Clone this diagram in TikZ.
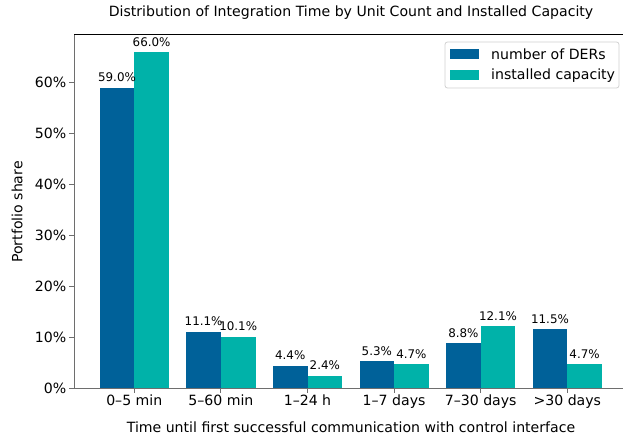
\documentclass[tikz,border=0pt]{standalone}
\usepackage{fontspec}
\setmainfont{DejaVu Sans}
\definecolor{derblue}{RGB}{0,97,153}
\definecolor{capteal}{RGB}{0,178,169}
\definecolor{spinegray}{RGB}{110,110,110}
\begin{document}
\begin{tikzpicture}[x=1pt,y=-1pt,
  lbl/.style={font=\fontsize{14.1}{16}\selectfont, inner sep=0pt},
  vallbl/.style={font=\fontsize{11.9}{14}\selectfont, inner sep=0pt, anchor=base},
  barblue/.style={fill=derblue, draw=none},
  barteal/.style={fill=capteal, draw=none},
  spine/.style={line width=1pt, spinegray},
  tickline/.style={line width=0.9pt, spinegray}]
\useasboundingbox (0,0) rectangle (623,438);

% title
\node[lbl] (title) at (351,13) {Distribution of Integration Time by Unit Count and Installed Capacity};

% bars and value labels
\def\zero{388}
\def\scl{5.09}
\def\bw{34.6}
\foreach \i/\a/\b/\xl in {0/59.0/66.0/0--5 min, 1/11.1/10.1/5--60 min, 2/4.4/2.4/1--24 h,
                          3/5.3/4.7/1--7 days, 4/8.8/12.1/7--30 days, 5/11.5/4.7/{>30 days}} {
  \pgfmathsetmacro{\c}{134.3+86.6*\i}
  \pgfmathsetmacro{\ya}{\zero-\a*\scl}
  \pgfmathsetmacro{\yb}{\zero-\b*\scl}
  \path[barblue] (\c-\bw,\zero) rectangle (\c,\ya);
  \path[barteal] (\c,\zero) rectangle (\c+\bw,\yb);
  \coordinate (topa\i) at (\c-\bw/2,\ya);
  \coordinate (topb\i) at (\c+\bw/2,\yb);
  \node[vallbl] (va\i) at ([yshift=6]topa\i) {\a\%};
  \node[vallbl] (vb\i) at ([yshift=6]topb\i) {\b\%};
  % x tick and its label
  \coordinate (xt\i) at (\c,\zero);
  \draw[tickline] (xt\i) -- ++(0,5);
  \node[lbl, anchor=base] (xl\i) at (\c,405) {\xl};
}

% y ticks
\foreach \v in {0,10,20,30,40,50,60} {
  \pgfmathsetmacro{\yy}{\zero-\v*\scl}
  \coordinate (yt\v) at (74,\yy);
  \draw[tickline] (yt\v) -- ++(-5,0);
  \node[lbl, anchor=east] (yl\v) at (66.5,\yy) {\v\%};
}

% spines
\coordinate (tl) at (74,35);
\coordinate (tr) at (623,35);
\coordinate (bl) at (74,388);
\coordinate (br) at (623,388);
\draw[line width=1pt, black] (tl) -- (tr);
\draw[spine] (tl) -- (bl) -- (br);

% axis labels
\node[lbl] (xlabel) at (351,427) {Time until first successful communication with control interface};
\node[lbl, rotate=90] (ylabel) at (17,212) {Portfolio share};

% legend
\node[draw=black!18, fill=white, rounded corners=2.5pt, line width=0.8pt,
      minimum width=174pt, minimum height=46pt, inner sep=0pt] (legend) at (532,65) {};
\path[barblue] (450,49) rectangle (479,59.5);
\path[barteal] (450,70) rectangle (479,80.5);
\node[lbl, anchor=west] (leg1) at (491,54.5) {number of DERs};
\node[lbl, anchor=west] (leg2) at (491,75.5) {installed capacity};
\end{tikzpicture}
\end{document}
